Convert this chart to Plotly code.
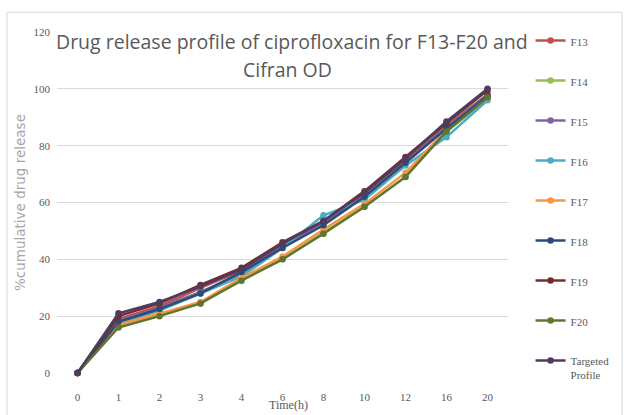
import plotly.graph_objects as go

time_labels = ["0", "1", "2", "3", "4", "6", "8", "10", "12", "16", "20"]

f13 = [0, 19.0, 23.5, 30.0, 36.0, 45.0, 53.0, 63.0, 75.0, 87.0, 98.0]
f14 = [0, 16.5, 20.5, 24.5, 33.0, 40.0, 49.5, 58.5, 69.0, 85.0, 96.5]
f15 = [0, 18.5, 23.0, 28.5, 35.0, 44.5, 53.0, 62.0, 74.0, 86.5, 98.0]
f16 = [0, 17.5, 22.0, 28.0, 34.0, 44.0, 55.5, 61.0, 73.0, 83.0, 96.0]
f17 = [0, 17.0, 21.0, 25.0, 33.5, 41.0, 50.5, 59.5, 70.5, 85.5, 97.0]
f18 = [0, 18.0, 22.5, 28.0, 35.5, 44.0, 52.0, 62.0, 74.0, 86.0, 97.5]
f19 = [0, 20.0, 24.5, 31.0, 37.0, 46.0, 53.5, 64.0, 76.0, 88.0, 99.5]
f20 = [0, 16.0, 20.0, 24.5, 32.5, 40.0, 49.0, 58.5, 69.0, 85.0, 97.0]
targeted = [0, 21.0, 25.0, 30.5, 36.5, 45.5, 53.5, 63.5, 75.5, 88.5, 100.0]

series_names = ["F13", "F14", "F15", "F16", "F17", "F18", "F19", "F20", "Targeted<br>Profile"]
series_values = [f13, f14, f15, f16, f17, f18, f19, f20, targeted]
series_colors = ["#C0504D", "#9BBB59", "#8064A2", "#4BACC6", "#F79646",
                 "#2C4D75", "#772C2A", "#5F7530", "#4D3B62"]

y_ticks = [0, 20, 40, 60, 80, 100, 120]

fig = go.Figure()
for name, vals, col in zip(series_names, series_values, series_colors):
    fig.add_trace(go.Scatter(
        x=time_labels, y=vals, name=name, mode="lines+markers",
        line=dict(color=col, width=2.5),
        marker=dict(color=col, size=6.5, symbol="circle"),
        legendgroup=name, cliponaxis=False,
    ))

gray = "#595959"
fig.update_layout(
    width=628, height=415,
    margin=dict(l=57, r=120, t=32, b=38),
    paper_bgcolor="white", plot_bgcolor="white",
    showlegend=True,
    legend=dict(
        x=1.05, y=1.015, xanchor="left", yanchor="top",
        font=dict(family="Liberation Serif", size=11, color=gray),
        tracegroupgap=21, valign="top", bgcolor="rgba(0,0,0,0)",
        maxheight=410,
    ),
    xaxis=dict(
        type="category", categoryorder="array", categoryarray=time_labels,
        range=[-0.5, 10.5], showgrid=False, showline=False, zeroline=False,
        ticks="", ticklabelstandoff=16,
        tickfont=dict(family="Liberation Serif", size=11, color=gray),
    ),
    yaxis=dict(
        range=[0, 120], tickvals=y_ticks, showgrid=True, gridcolor="#D9D9D9",
        gridwidth=1, zeroline=False, showline=False, ticks="",
        ticklabelstandoff=6,
        tickfont=dict(family="Liberation Serif", size=11, color=gray),
    ),
    shapes=[dict(type="rect", xref="paper", yref="paper",
                 x0=-0.111, x1=1.253, y0=-0.2, y1=1.058,
                 line=dict(color="#D9D9D9", width=1), layer="below")],
    annotations=[
        dict(text="Drug release profile of ciprofloxacin for F13-F20 and",
             xref="paper", yref="paper", x=0.522, y=(377 - 42) / 345,
             xanchor="center", yanchor="middle", showarrow=False,
             bgcolor="white",
             font=dict(family="Open Sans", size=19.5, color=gray)),
        dict(text="Cifran OD",
             xref="paper", yref="paper", x=0.512, y=(377 - 70) / 345,
             xanchor="center", yanchor="middle", showarrow=False,
             font=dict(family="Open Sans", size=19.5, color=gray)),
        dict(text="Time(h)", xref="paper", yref="paper",
             x=(288 - 57) / 451, y=(377 - 409) / 345,
             xanchor="center", yanchor="middle", showarrow=False,
             font=dict(family="Liberation Serif", size=12, color=gray)),
        dict(text="%cumulative drug release", xref="paper", yref="paper",
             x=(20 - 57) / 451, y=(377 - 205) / 345, textangle=-90,
             xanchor="center", yanchor="middle", showarrow=False,
             font=dict(family="DejaVu Sans", size=13.5, color="#A6A6A6")),
    ],
)

fig.write_html("out.html")
